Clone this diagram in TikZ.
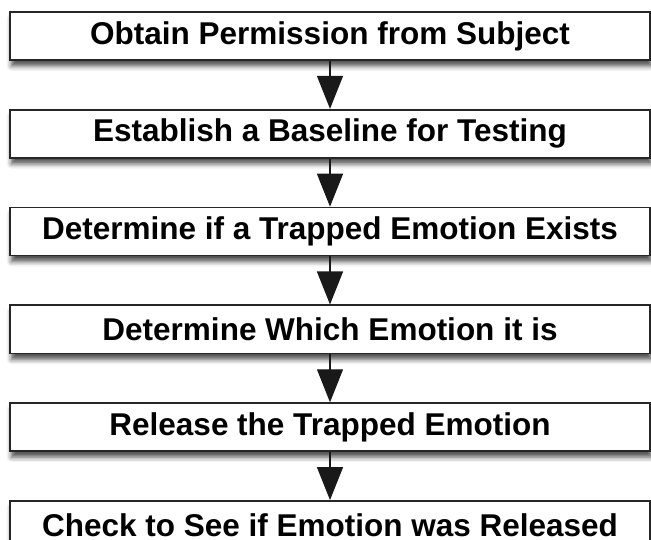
\documentclass[tikz,border=0pt]{standalone}
\usepackage{fontspec}
\setmainfont{Liberation Sans}
\usetikzlibrary{positioning,arrows.meta,shadows.blur}
\tikzset{
	stepbox/.style={draw=black!85, line width=1.8pt, fill=white,
		minimum width=640pt, minimum height=48pt, inner sep=0pt,
		font=\fontsize{31.5}{36}\selectfont\bfseries,
		blur shadow={shadow xshift=1.5pt, shadow yshift=-6pt, shadow blur radius=5pt, shadow opacity=70}},
	flow/.style={draw=black!90, line width=1.3pt, -{Triangle[width=26pt,length=33pt]}}
}
\begin{document}
\begin{tikzpicture}[node distance=48pt]
		\useasboundingbox (0,0) rectangle (651pt,-540pt);
		\clip (0,0) rectangle (651pt,-540pt);
		\node[stepbox] (permission) at (330pt,-36pt) {Obtain Permission from Subject};
		\node[stepbox, below=of permission] (baseline) {Establish a Baseline for Testing};
		\node[stepbox, below=of baseline] (exists) {Determine if a Trapped Emotion Exists};
		\node[stepbox, below=of exists] (which) {Determine Which Emotion it is};
		\node[stepbox, below=of which] (release) {Release the Trapped Emotion};
		\node[stepbox, below=of release] (check) {Check to See if Emotion was Released};
		\draw[flow] (permission) -- (baseline);
		\draw[flow] (baseline) -- (exists);
		\draw[flow] (exists) -- (which);
		\draw[flow] (which) -- (release);
		\draw[flow] (release) -- (check);
  \end{tikzpicture}
\end{document}
